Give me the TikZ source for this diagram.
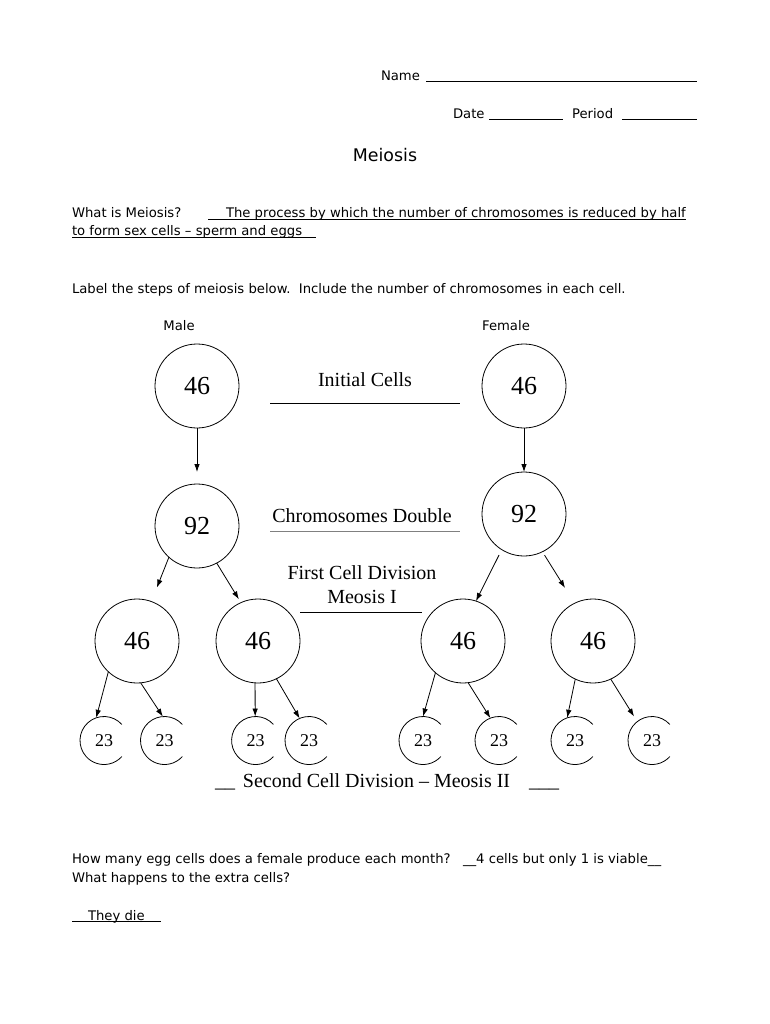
\documentclass[tikz,border=0pt]{standalone}
\usepackage{fontspec}
\setmainfont{Liberation Serif}
\setsansfont{DejaVu Sans}
\usetikzlibrary{arrows.meta,positioning,calc}

\newcommand{\ansline}[1]{\setbox0=\hbox{#1}\rlap{\rule[-1.8pt]{\wd0}{0.7pt}}\box0}

\begin{document}
\begin{tikzpicture}[
  x=1pt, y=-1pt,
  >=Latex,
  every node/.style={inner sep=0pt, outer sep=0pt},
  formtext/.style={font=\sffamily\fontsize{13.2}{16}\selectfont, anchor=base west},
  steptext/.style={font=\fontsize{20}{24}\selectfont, anchor=base},
  bigcell/.style={circle, draw, line width=0.8pt, minimum size=84pt, font=\fontsize{26}{30}\selectfont},
  smallcell/.style={circle, minimum size=48pt, font=\fontsize{18}{21}\selectfont},
  splitedge/.style={-{Latex[length=8pt,width=5.5pt]}, line width=0.8pt},
  blank/.style={line width=0.7pt}
]

\useasboundingbox[fill=white] (0,0) rectangle (770,1024);

% --- Header
\node[formtext] (name) at (381,80.5) {Name};
\draw[blank] (426,81) -- (697,81);
\node[formtext] (date) at (453,118.5) {Date};
\draw[blank] (489,119) -- (563,119);
\node[formtext] (period) at (572,118.5) {Period};
\draw[blank] (622,119) -- (697,119);
\node[font=\sffamily\fontsize{17.4}{20}\selectfont, anchor=base] (title) at (385,162) {Meiosis};

% --- Questions
\node[formtext] (q1) at (72,218) {What is Meiosis?};
\node[formtext] (a1) at (208,218) {\ansline{\hspace{18pt}The process by which the number of chromosomes is reduced by half}};
\node[formtext] (a1b) at (72,236) {\ansline{to form sex cells – sperm and eggs\hspace{14pt}}};
\node[formtext] (task) at (72,293) {Label the steps of meiosis below.\ \ Include the number of chromosomes in each cell.};
\node[formtext, anchor=base] (male) at (179,330) {Male};
\node[formtext, anchor=base] (female) at (506,330) {Female};

% --- Cells
\node[bigcell] (m46) at (197,386) {46};
\node[bigcell] (f46) at (524,386) {46};
\node[bigcell] (m92) at (197,526) {92};
\node[bigcell] (f92) at (524,514) {92};
\node[bigcell] (c1) at (137,641) {46};
\node[bigcell] (c2) at (258,641) {46};
\node[bigcell] (c3) at (463,641) {46};
\node[bigcell] (c4) at (593,641) {46};

\foreach \n/\x in {s1/104, s2/164.5, s3/255.6, s4/309, s5/423, s6/499, s7/575, s8/652} {
  \node[smallcell] (\n) at (\x,740.5) {23};
  \draw[line width=0.8pt] (\n.42) arc[start angle=42, end angle=318, radius=24pt];
}

% --- Step labels
\node[steptext] (initial) at (365,386) {Initial Cells};
\draw[line width=0.8pt] (270,403) -- (460,403);
\node[steptext] (double) at (362,522) {Chromosomes Double};
\draw[line width=0.6pt, gray] (270,531) -- (460,531);
\node[steptext] (first) at (362,579) {First Cell Division};
\node[steptext] (meosisI) at (362,603) {Meosis I};
\draw[line width=0.8pt] (300,612) -- (422,612);
\node[steptext] (second) at (376.5,787) {Second Cell Division – Meosis II};
\node[steptext, anchor=base west] (gapl) at (215,787) {\_\_};
\node[steptext, anchor=base west] (gapr) at (529,787) {\_\_\_};

% --- Arrows
\draw[splitedge, shorten >=12pt] (m46.south) -- (m92.north);
\draw[splitedge] (f46.south) -- (f92.north);
\draw[splitedge, shorten >=15pt] (m92.228) -- (c1.70);
\draw[splitedge, shorten >=4pt] (m92.298) -- (c2.114);
\draw[splitedge, shorten <=6pt] (f92.238) -- (c3.72);
\draw[splitedge, shorten <=4pt, shorten >=18pt] (f92.296) -- (c4.116);

\draw[splitedge] (c1.227) -- (s1.109);
\draw[splitedge] (c1.275) -- (s2.94);
\draw[splitedge] (c2.266) -- (s3.91);
\draw[splitedge] (c2.296) -- (s4.113);
\draw[splitedge] (c3.229) -- (s5.90);
\draw[splitedge] (c3.277) -- (s6.111);
\draw[splitedge] (c4.245) -- (s7.109);
\draw[splitedge, shorten >=6pt] (c4.295) -- (s8.128);

% --- Closing questions
\node[formtext] (q2) at (72,863) {How many egg cells does a female produce each month?};
\node[formtext] (a2) at (463,863) {\_\_4 cells but only 1 is viable\_\_};
\node[formtext] (q3) at (72,882) {What happens to the extra cells?};
\node[formtext] (a3) at (72,920) {\ansline{\hspace{16pt}They die\hspace{16pt}}};

\end{tikzpicture}
\end{document}
